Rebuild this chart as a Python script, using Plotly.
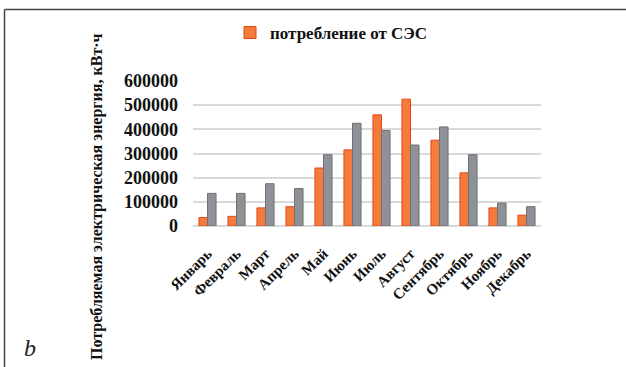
import plotly.graph_objects as go

months = ["Январь", "Февраль", "Март", "Апрель", "Май", "Июнь", "Июль",
          "Август", "Сентябрь", "Октябрь", "Ноябрь", "Декабрь"]
ses_consumption = [35000, 40000, 75000, 80000, 240000, 315000, 460000,
                   525000, 355000, 220000, 75000, 45000]
total_consumption = [135000, 135000, 175000, 155000, 295000, 425000, 395000,
                     335000, 410000, 295000, 95000, 80000]
y_ticks = [0, 100000, 200000, 300000, 400000, 500000, 600000]

W, H = 626, 367
L, R, T, B = 193, 85, 81, 141
pw, ph = W - L - R, H - T - B

def px(x):
    return (x - L) / pw

def py(y):
    return (H - B - y) / ph

serif = "Liberation Serif"

fig = go.Figure()
fig.add_trace(go.Bar(
    x=months, y=ses_consumption, name="потребление от СЭС",
    marker=dict(color="#f47b3a", line=dict(color="#e4461c", width=1)),
))
fig.add_trace(go.Bar(
    x=months, y=total_consumption, name="потребление",
    showlegend=False,
    marker=dict(color="#8e9195", line=dict(color="#6e7175", width=1)),
))

fig.update_layout(
    width=W, height=H,
    margin=dict(l=L, r=R, t=T, b=B, autoexpand=False),
    paper_bgcolor="white", plot_bgcolor="white",
    barmode="group", bargap=0.41, bargroupgap=0,
    font=dict(family=serif, color="#111111"),
    showlegend=True,
    legend=dict(orientation="h", x=px(230), y=py(33), xanchor="left", yanchor="middle",
                font=dict(family=serif, size=17, color="#111111", weight="bold"),
                bgcolor="rgba(0,0,0,0)", itemwidth=30),
    xaxis=dict(
        tickangle=-45, showgrid=False, showline=False, ticks="",
        tickfont=dict(family=serif, size=15, color="#111111", weight="bold"),
        ticklabelstandoff=15,
    ),
    yaxis=dict(
        range=[0, 600000], tickvals=y_ticks, ticktext=[str(v) for v in y_ticks],
        showgrid=True, gridcolor="#d9d9d9", gridwidth=1.5,
        zeroline=True, zerolinecolor="#d9d9d9", zerolinewidth=1.5,
        showline=False, ticks="",
        tickfont=dict(family=serif, size=18, color="#111111", weight="bold"),
        ticklabelstandoff=14,
    ),
    annotations=[
        dict(text="Потребляемая электрическая энергия, кВт·ч", textangle=-90,
             xref="paper", yref="paper", x=px(97), y=py(197),
             xanchor="center", yanchor="middle", showarrow=False,
             font=dict(family=serif, size=16, color="#111111", weight="bold")),
        dict(text="<i>b</i>", xref="paper", yref="paper", x=px(30), y=py(348),
             xanchor="center", yanchor="middle", showarrow=False,
             font=dict(family="Liberation Serif", size=24, color="#222222")),
    ],
    shapes=[
        dict(type="line", xref="paper", yref="paper",
             x0=px(4.5), x1=px(626), y0=py(9.5), y1=py(9.5),
             line=dict(color="#444444", width=1.5)),
        dict(type="line", xref="paper", yref="paper",
             x0=px(4.5), x1=px(4.5), y0=py(9.5), y1=py(367),
             line=dict(color="#444444", width=1.5)),
    ],
)

fig.write_html("out.html", config={"displayModeBar": False},
               post_script="document.body.style.margin='0';")
